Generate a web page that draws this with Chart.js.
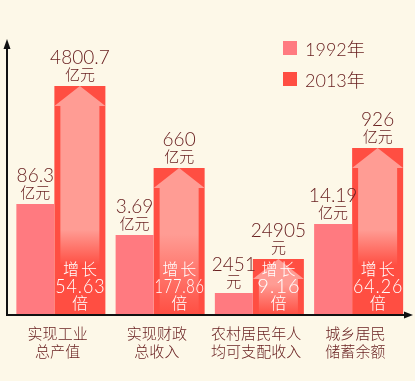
<!DOCTYPE html>
<html><head><meta charset="utf-8">
<script src="https://cdn.jsdelivr.net/npm/chart.js@4/dist/chart.umd.min.js"></script>
<style>
html,body{margin:0;padding:0;background:#FDF8E8;}
#wrap{position:relative;width:415px;height:381px;overflow:hidden;}
canvas{display:block;}
#legend{position:absolute;left:283px;top:32px;font-family:Lato,"Noto Sans CJK SC",sans-serif;font-weight:300;font-size:18px;color:#6A2222;}
.item{display:flex;align-items:center;height:31px;}
.sw{width:14px;height:14px;margin-right:8px;flex:none;}
</style></head><body>
<div id="wrap"><canvas id="c" width="415" height="381"></canvas><div id="legend"></div></div>
<script>
// ---- data ----
const categories = [['实现工业','总产值'],['实现财政','总收入'],['农村居民年人','均可支配收入'],['城乡居民','储蓄余额']];
const seriesNames = ['1992年','2013年'];
// bar heights as drawn in the picture (illustrative, not to scale)
const barHeights1992 = [111, 80, 22, 91];
const barHeights2013 = [229, 147, 56, 167];
const values1992 = ['86.3','3.69','2451','14.19'];
const units1992 = ['亿元','亿元','元','亿元'];
const values2013 = ['4800.7','660','24905','926'];
const units2013 = ['亿元','亿元','元','亿元'];
const growth = ['54.63','177.86','9.16','64.26'];
const growthPrefix = '增长';
const growthSuffix = '倍';
const yMax = 275;

const FONT = 'Lato, "Noto Sans CJK SC", "Noto Sans", sans-serif';
const TEXT = '#6A2222';
const C1992 = '#FF7A80';
const C2013 = '#FF4E42';
const ARROW = '#FF9C94';

// legend
const lg = document.getElementById('legend');
[C1992, C2013].forEach((c, i) => {
  const d = document.createElement('div'); d.className = 'item';
  d.innerHTML = '<span class="sw" style="background:' + c + '"></span><span>' + seriesNames[i] + '</span>';
  lg.appendChild(d);
});

const decor = {
  id: 'decor',
  afterDatasetsDraw(chart) {
    const ctx = chart.ctx;
    const ca = chart.chartArea;
    const m0 = chart.getDatasetMeta(0), m1 = chart.getDatasetMeta(1);
    ctx.save();
    // arrows inside 2013 bars
    m1.data.forEach((bar) => {
      const x = bar.x, y = bar.y, base = bar.base, w = bar.width;
      const l = x - w / 2, r = x + w / 2, head = 20, inset = 6, h = base - y;
      const fadeA = ca.top + 0.69 * ca.height, fadeB = ca.top + 0.82 * ca.height;
      let s = (fadeA - y) / h, e = (fadeB - y) / h;
      if (s < 0.45) { s = 0.45; e = 1; }
      s = Math.min(s, 0.95); e = Math.min(Math.max(e, s + 0.05), 1);
      const g = ctx.createLinearGradient(0, y, 0, base);
      g.addColorStop(0, ARROW); g.addColorStop(s, ARROW); g.addColorStop(e, C2013); g.addColorStop(1, C2013);
      ctx.beginPath();
      ctx.moveTo(x, y); ctx.lineTo(r, y + head); ctx.lineTo(r - inset, y + head);
      ctx.lineTo(r - inset, base); ctx.lineTo(l + inset, base); ctx.lineTo(l + inset, y + head);
      ctx.lineTo(l, y + head); ctx.closePath();
      ctx.fillStyle = g; ctx.fill();
    });
    // axes
    const ax = ca.left - 1, ay = ca.bottom;
    ctx.strokeStyle = '#111'; ctx.fillStyle = '#111'; ctx.lineWidth = 2;
    ctx.beginPath(); ctx.moveTo(ax, ay + 1); ctx.lineTo(ax, ca.top + 6); ctx.stroke();
    ctx.beginPath(); ctx.moveTo(ax, ca.top - 1); ctx.lineTo(ax - 3.5, ca.top + 9); ctx.lineTo(ax + 3.5, ca.top + 9); ctx.closePath(); ctx.fill();
    ctx.beginPath(); ctx.moveTo(ax - 1, ay); ctx.lineTo(ca.right + 2, ay); ctx.stroke();
    ctx.beginPath(); ctx.moveTo(ca.right + 8, ay); ctx.lineTo(ca.right - 1, ay - 3.5); ctx.lineTo(ca.right - 1, ay + 3.5); ctx.closePath(); ctx.fill();
    // value labels
    ctx.textAlign = 'center'; ctx.textBaseline = 'middle'; ctx.fillStyle = TEXT;
    const lab = (meta, vals, units) => meta.data.forEach((bar, i) => {
      ctx.font = '300 19px ' + FONT; ctx.fillText(vals[i], bar.x, bar.y - 28);
      ctx.font = '300 15px ' + FONT; ctx.fillText(units[i], bar.x, bar.y - 11);
    });
    lab(m0, values1992, units1992);
    lab(m1, values2013, units2013);
    // growth labels
    ctx.fillStyle = '#FFFFFF';
    m1.data.forEach((bar, i) => {
      const b = bar.base;
      ctx.font = '300 16px ' + FONT; ctx.letterSpacing = '2px';
      ctx.fillText(growthPrefix, bar.x + 1, b - 45);
      ctx.font = '300 20px ' + FONT; ctx.letterSpacing = '1px';
      ctx.fillText(growth[i], bar.x + 0.5, b - 28, bar.width - 1);
      ctx.letterSpacing = '0px';
      ctx.font = '300 16px ' + FONT;
      ctx.fillText(growthSuffix, bar.x, b - 11);
    });
    ctx.restore();
  }
};

new Chart(document.getElementById('c').getContext('2d'), {
  type: 'bar',
  data: {
    labels: categories,
    datasets: [
      { label: seriesNames[0], data: barHeights1992, backgroundColor: C1992, barPercentage: 38 / 44.5, categoryPercentage: 0.897 },
      { label: seriesNames[1], data: barHeights2013, backgroundColor: C2013, barPercentage: 51 / 44.5, categoryPercentage: 0.897 }
    ]
  },
  options: {
    responsive: false, animation: false,
    layout: { padding: { left: 8, right: 10, top: 40, bottom: 0 } },
    plugins: { legend: { display: false }, tooltip: { enabled: false } },
    scales: {
      x: {
        grid: { display: false, drawTicks: false }, border: { display: false },
        ticks: { color: TEXT, font: { family: FONT, size: 15, weight: 300, lineHeight: 1.2 }, padding: 10, maxRotation: 0, autoSkip: false },
        afterFit(s) { s.height = 66; }
      },
      y: { display: false, min: 0, max: yMax }
    }
  },
  plugins: [decor]
});
</script>
</body></html>
